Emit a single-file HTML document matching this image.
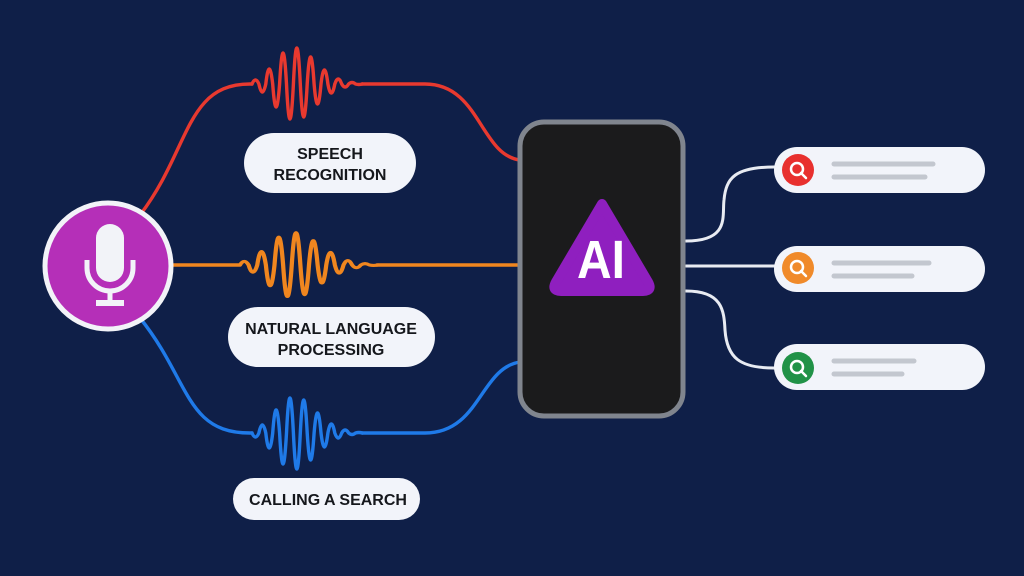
<!DOCTYPE html>
<html><head><meta charset="utf-8"><style>
html,body{margin:0;padding:0;background:#0f1f48;}
svg{display:block;}
text{font-family:"Liberation Sans",sans-serif;font-weight:bold;}
</style></head><body>
<svg width="1024" height="576" viewBox="0 0 1024 576" xmlns="http://www.w3.org/2000/svg">
<rect width="1024" height="576" fill="#0f1f48"/>
<defs>
<path id="w" d="M0 0 q3.4 -8 6.9 0 q3.4 16 6.9 0 q3.4 -30 6.9 0 q3.4 46 6.9 0 q3.4 -62 6.9 0 q3.4 70 6.9 0 q3.4 -72 6.9 0 q3.4 66 6.9 0 q3.4 -54 6.9 0 q3.4 40 6.9 0 q3.4 -28 6.9 0 q3.4 18 6.9 0 q3.4 -10 6.9 0 q3.4 6 6.9 0 q3.4 -3 6.9 0 q3.4 1 6.9 0"/>
</defs>
<g fill="none" stroke-width="3.4" stroke-linecap="round" stroke-linejoin="round">
<g stroke="#e8392f">
<path d="M140 215 C190 150 185 84 250 84 L252 84"/>
<use href="#w" x="252" y="84"/>
<path d="M362 84 L425 84 C480 84 480 155 520 160"/>
</g>
<g stroke="#f0861f">
<path d="M172 265 L240 265"/>
<use href="#w" transform="translate(240 265) scale(1.25 0.9)"/>
<path d="M377 265 L520 265"/>
</g>
<g stroke="#1f7ae8">
<path d="M140 318 C190 380 185 433 250 433 L252 433"/>
<use href="#w" transform="translate(252 433) scale(1 -1)"/>
<path d="M362 433 L425 433 C480 433 480 368 520 362"/>
</g>
<g stroke="#e8ebf2" stroke-width="3">
<path d="M686 241 C730 241 722 216 724 200 C726 178 735 167 774 167"/>
<path d="M686 266 L776 266"/>
<path d="M686 291 C722 291 724 310 725 330 C727 358 740 368 774 368"/>
</g>
</g>
<circle cx="108" cy="266" r="63" fill="#b52fb8" stroke="#f2f3f8" stroke-width="5"/>
<rect x="96" y="224" width="28" height="58" rx="14" fill="#f2f3f8"/>
<path d="M87 260 V268 A23 23 0 0 0 133 268 V260" fill="none" stroke="#f2f3f8" stroke-width="5"/>
<rect x="107.5" y="290" width="5" height="13" fill="#f2f3f8"/>
<rect x="96" y="300" width="28" height="6" fill="#f2f3f8"/>
<g fill="#f2f4fa">
<rect x="244" y="133" width="172" height="60" rx="30"/>
<rect x="228" y="307" width="207" height="60" rx="30"/>
<rect x="233" y="478" width="187" height="42" rx="21"/>
</g>
<g fill="#15171c" font-size="16" text-anchor="middle">
<text x="330" y="159">SPEECH</text>
<text x="330" y="180">RECOGNITION</text>
<text x="331" y="334">NATURAL LANGUAGE</text>
<text x="331" y="355">PROCESSING</text>
<text x="328" y="505">CALLING A SEARCH</text>
</g>
<rect x="520" y="122" width="163" height="294" rx="24" fill="#1b1b1c" stroke="#80858e" stroke-width="5"/>
<path d="M602 204 L648 282 Q653 291 643 291 L561 291 Q551 291 556 282 Z" fill="#8f1fbf" stroke="#8f1fbf" stroke-width="10" stroke-linejoin="round"/>
<text x="601" y="278" font-size="54" fill="#fff" text-anchor="middle" textLength="48" lengthAdjust="spacingAndGlyphs">AI</text>
<g fill="#f2f4fa">
<rect x="774" y="147" width="211" height="46" rx="23"/>
<rect x="774" y="246" width="211" height="46" rx="23"/>
<rect x="774" y="344" width="211" height="46" rx="23"/>
</g>
<circle cx="798" cy="170" r="16" fill="#e8302e"/>
<circle cx="798" cy="268" r="16" fill="#f08a2a"/>
<circle cx="798" cy="368" r="16" fill="#219247"/>
<g fill="none" stroke="#fff" stroke-width="2.5" stroke-linecap="round">
<circle cx="797" cy="169" r="6"/><path d="M801 173 L806 178"/>
<circle cx="797" cy="267" r="6"/><path d="M801 271 L806 276"/>
<circle cx="797" cy="367" r="6"/><path d="M801 371 L806 376"/>
</g>
<g stroke="#c3c7cf" stroke-width="5" stroke-linecap="round">
<path d="M834 164 H933"/><path d="M834 177 H925"/>
<path d="M834 263 H929"/><path d="M834 276 H912"/>
<path d="M834 361 H914"/><path d="M834 374 H902"/>
</g>
</svg>
</body></html>
